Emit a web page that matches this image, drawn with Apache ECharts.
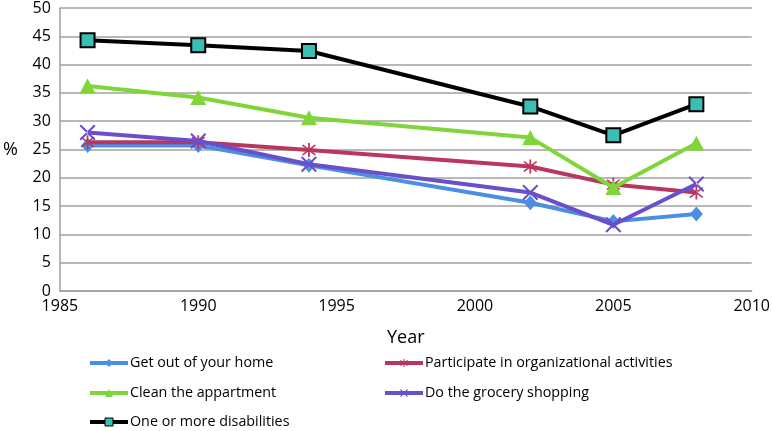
<!DOCTYPE html>
<html><head><meta charset="utf-8">
<script src="https://cdn.jsdelivr.net/npm/echarts@6/dist/echarts.min.js"></script>
<style>html,body{margin:0;padding:0;background:#fff}#c{width:773px;height:431px}</style>
</head><body><div id="c"></div>
<script>
const years = [1986, 1990, 1994, 2002, 2005, 2008];
const getOut = [25.7, 25.7, 22.2, 15.6, 12.3, 13.6];
const participate = [26.3, 26.3, 24.9, 22.0, 18.8, 17.4];
const cleanApt = [36.2, 34.2, 30.6, 27.1, 18.3, 26.1];
const grocery = [28.0, 26.5, 22.4, 17.4, 11.7, 18.9];
const oneOrMore = [44.3, 43.4, 42.4, 32.6, 27.5, 33.0];
const names = ['Get out of your home','Participate in organizational activities','Clean the appartment','Do the grocery shopping','One or more disabilities'];

const FONT = '"Open Sans",sans-serif';
const asterisk = 'path://M-1,-10L1,-10L1,10L-1,10Z M-7.8,-6.4L-6.4,-7.8L7.8,6.4L6.4,7.8Z M7.8,-6.4L6.4,-7.8L-7.8,6.4L-6.4,7.8Z';
const xmark = 'path://M-7.8,-6.4L-6.4,-7.8L7.8,6.4L6.4,7.8Z M7.8,-6.4L6.4,-7.8L-7.8,6.4L-6.4,7.8Z';

function pairs(v){ return years.map((y,i)=>[y,v[i]]); }
const specs = [
  {data:getOut, color:'#4A8FE3', symbol:'diamond', size:[13,15]},
  {data:participate, color:'#B9365C', symbol:asterisk, size:14},
  {data:cleanApt, color:'#7FD53A', symbol:'triangle', size:[16,15]},
  {data:grocery, color:'#6A4FCB', symbol:xmark, size:16},
  {data:oneOrMore, color:'#000000', symbol:'rect', size:14, fill:'#3BBFB5'}
];
const series = specs.map((s,i)=>({
  name:names[i], type:'line', data:pairs(s.data), symbol:s.symbol, symbolSize:s.size,
  lineStyle:{width:4,color:s.color},
  itemStyle: s.fill ? {color:s.fill,borderColor:'#000',borderWidth:2} : {color:s.color,borderWidth:0},
  z: 2+i
}));
const legendPos = [[88,365],[383,365],[88,395],[383,395],[88,424]];
const legends = names.map((n,i)=>({
  data:[n], left:legendPos[i][0], top:legendPos[i][1]-9, itemWidth:38, itemHeight:10, itemGap:2,
  lineStyle:{width:4},
  itemStyle: i===4 ? {borderWidth:1} : {},
  textStyle:{fontFamily:FONT,fontSize:14.3,color:'#000',padding:[0,0,0,-3]}, padding:0
}));

const chart = echarts.init(document.getElementById('c'));
chart.setOption({
  animation:false,
  grid:{left:53,right:19,top:5.5,bottom:140,containLabel:false},
  legend:legends,
  xAxis:{type:'value',min:1985,max:2010,interval:5,name:'Year',nameLocation:'middle',nameGap:38,
    nameTextStyle:{fontFamily:FONT,fontSize:18,color:'#000'},
    axisLine:{lineStyle:{color:'#A0A0A0',width:1.5}},axisTick:{show:false},splitLine:{show:false},
    axisLabel:{fontFamily:FONT,fontSize:16,color:'#000',margin:7,formatter:v=>String(v)}},
  yAxis:{type:'value',min:0,max:50,interval:5,name:'%',nameLocation:'middle',nameRotate:0,nameGap:42,
    nameTextStyle:{fontFamily:FONT,fontSize:18,color:'#000'},
    axisLine:{show:true,lineStyle:{color:'#A0A0A0',width:1.5}},axisTick:{show:false},
    splitLine:{lineStyle:{color:'#A0A0A0',width:1.5}},
    axisLabel:{fontFamily:FONT,fontSize:16,color:'#000',margin:9}},
  series:series
});
</script></body></html>
